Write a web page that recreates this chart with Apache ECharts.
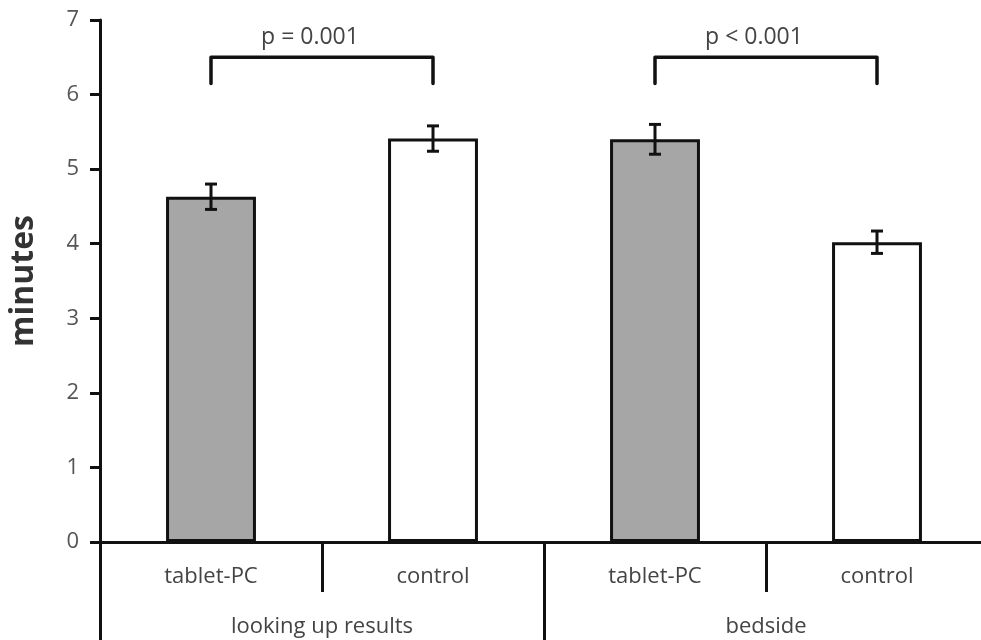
<!DOCTYPE html>
<html><head><meta charset="utf-8">
<script src="https://cdn.jsdelivr.net/npm/echarts@6/dist/echarts.min.js"></script>
<style>html,body{margin:0;padding:0;background:#fff}#c{width:981px;height:640px}</style>
</head><body><div id="c"></div>
<script>
// ---- data ----
const categories = ['tablet-PC', 'control', 'tablet-PC', 'control'];
const groups = ['looking up results', 'bedside'];
const means = [4.63, 5.41, 5.40, 4.02];
const errors = [0.17, 0.17, 0.20, 0.15];
const yMin = 0, yMax = 7, yStep = 1;
const comparisonStart = [0, 2];
const comparisonEnd = [1, 3];
const comparisonText = ['p = 0.001', 'p < 0.001'];
const bracketTop = [6.5, 6.5];
const bracketLeg = [6.15, 6.15];

const FONT = 'Open Sans';
const INK = '#111';
const LW = 3;
const chart = echarts.init(document.getElementById('c'), null, {renderer: 'canvas'});

const barData = means.map((v, i) => ({
  value: v,
  itemStyle: {color: categories[i] === 'control' ? '#ffffff' : '#a6a6a6'}
}));
const errData = means.map((v, i) => [i, v - errors[i], v + errors[i]]);
const brData = comparisonStart.map((s, i) => [s, comparisonEnd[i], bracketTop[i], bracketLeg[i], i]);

chart.setOption({
  animation: false,
  grid: {left: 100, right: -7, top: 20, bottom: 98, outerBoundsMode: 'none', containLabel: false},
  xAxis: [{
    type: 'category', data: categories, position: 'bottom',
    axisLine: {show: true, lineStyle: {color: INK, width: LW}},
    axisTick: {show: true, length: 50, alignWithLabel: false, interval: 0, lineStyle: {color: INK, width: LW}},
    axisLabel: {margin: 24, fontFamily: FONT, fontSize: 22, color: '#444', interval: 0},
    splitLine: {show: false}
  }, {
    type: 'category', data: groups, position: 'bottom',
    axisLine: {show: false},
    axisTick: {show: true, length: 98, alignWithLabel: false, interval: 0, lineStyle: {color: INK, width: LW}},
    axisLabel: {margin: 74, fontFamily: FONT, fontSize: 22, color: '#444', interval: 0},
    splitLine: {show: false}
  }],
  yAxis: {
    type: 'value', min: yMin, max: yMax, interval: yStep,
    axisLine: {show: true, lineStyle: {color: INK, width: LW}},
    axisTick: {show: true, inside: false, length: 10, lineStyle: {color: INK, width: LW}},
    axisLabel: {margin: 21, fontFamily: FONT, fontSize: 22, color: '#555'},
    splitLine: {show: false},
    name: 'minutes', nameLocation: 'middle', nameGap: 60, nameRotate: 90,
    nameTextStyle: {fontFamily: FONT, fontSize: 32, fontWeight: 'bold', color: '#333'}
  },
  series: [{
    type: 'bar', xAxisIndex: 0, data: barData, barWidth: '40.5%',
    itemStyle: {borderColor: INK, borderWidth: LW}
  }, {
    type: 'custom', xAxisIndex: 0, data: errData, z: 5,
    renderItem: function (params, api) {
      const x = api.value(0);
      const lo = api.coord([x, api.value(1)]);
      const hi = api.coord([x, api.value(2)]);
      const w = 6;
      const st = {stroke: INK, lineWidth: LW};
      return {type: 'group', children: [
        {type: 'line', shape: {x1: lo[0], y1: lo[1], x2: hi[0], y2: hi[1]}, style: st},
        {type: 'line', shape: {x1: lo[0] - w, y1: lo[1], x2: lo[0] + w, y2: lo[1]}, style: st},
        {type: 'line', shape: {x1: hi[0] - w, y1: hi[1], x2: hi[0] + w, y2: hi[1]}, style: st}
      ]};
    }
  }, {
    type: 'custom', xAxisIndex: 0, data: brData, z: 5,
    renderItem: function (params, api) {
      const a = api.coord([api.value(0), api.value(2)]);
      const b = api.coord([api.value(1), api.value(2)]);
      const legY = api.coord([api.value(0), api.value(3)])[1];
      const idx = api.value(4);
      return {type: 'group', children: [
        {type: 'polyline', shape: {points: [[a[0], legY], [a[0], a[1]], [b[0], b[1]], [b[0], legY]]},
          style: {stroke: INK, lineWidth: 3.5, fill: null, lineJoin: 'round', lineCap: 'round'}},
        {type: 'text', x: (a[0] + b[0]) / 2 - 12, y: a[1] - 8,
          style: {text: comparisonText[idx], fontFamily: FONT, fontSize: 23, fill: '#444',
            align: 'center', verticalAlign: 'bottom'}}
      ]};
    }
  }]
});
</script></body></html>
